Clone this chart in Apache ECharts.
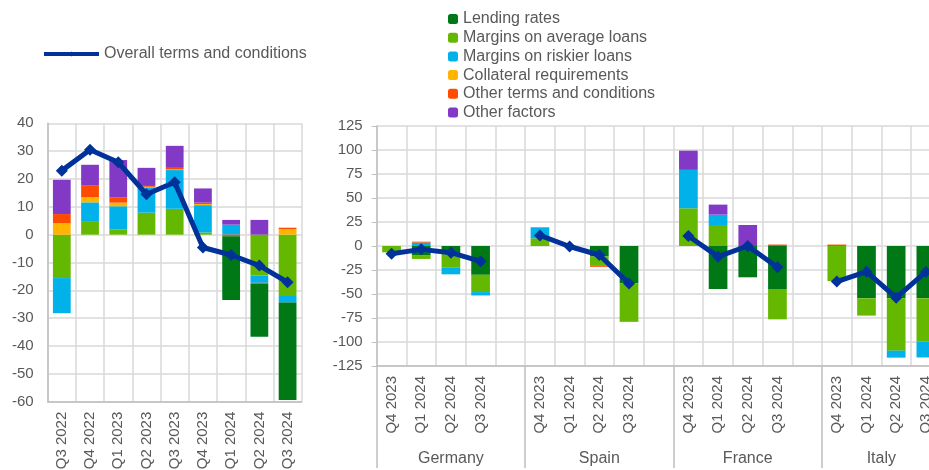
<!DOCTYPE html>
<html>
<head>
<meta charset="utf-8">
<title>Credit standards - terms and conditions</title>
<script src="https://cdn.jsdelivr.net/npm/echarts@6.0.0/dist/echarts.min.js"></script>
<style>
html,body{margin:0;padding:0;background:#fff;overflow:hidden;}
#chart{width:929px;height:470px;}
</style>
</head>
<body>
<div id="chart"></div>
<script>
// euro area quarters (left panel)
var euroQuarters = ['Q3 2022','Q4 2022','Q1 2023','Q2 2023','Q3 2023','Q4 2023','Q1 2024','Q2 2024','Q3 2024'];
var euroLending      = [0, 0, 0, 0, 0, 0, -22.9, -19, -35];
var euroAvgMargin    = [-15.6, 4.6, 1.8, 7.9, 9.3, 0.8, 0, -14.7, -22];
var euroRiskyMargin  = [-12.6, 7, 8.4, 9.1, 13.9, 9.8, 3.6, -2.6, -2.4];
var euroCollateral   = [4.1, 1.9, 1.3, 0.2, 0.2, 0.4, 0, 0, 2];
var euroOtherTerms   = [3.3, 4.1, 1.8, 0.3, 0.6, 0.5, -0.6, -0.4, 0.5];
var euroOtherFactors = [12.3, 7.5, 13.5, 6.5, 7.9, 5.1, 1.7, 5.3, 0];
var euroOverall      = [23, 30.5, 26, 14.5, 18.8, -4.6, -7.3, -11.1, -17.1];

// countries (right panel), 4 quarters each: Germany, Spain, France, Italy
var countries = ['Germany','Spain','France','Italy'];
var countryQuarters = ['Q4 2023','Q1 2024','Q2 2024','Q3 2024'];
var ctyLending      = [0, -10, -7.6, -30,   0, 0, -11, -39,      0, -44.8, -32.6, -44.8,   0, -54.5, -54.5, -54.5];
var ctyAvgMargin    = [-6.6, -3.5, -14.6, -18,   8, 0, -9.7, -40,   39.3, 21.9, 0, -31.6,   -36.5, -18, -54.5, -45];
var ctyRiskyMargin  = [0, 3.5, -7.3, -3.5,   11.5, 0, 0, 0,      40, 10.8, 0, 0,           0, 0, -7.3, -16.6];
var ctyCollateral   = [0, 0, 0, 0,   0, 0, 0, 0,   0, 0, 0, 0,   0, 0, 0, 0];
var ctyOtherTerms   = [0, 1, 0, 0,   0, 0, -1, 0,   0, 0, 0, 1.5,   1.5, 0, 0, 0];
var ctyOtherFactors = [0, 0, 0, 0,   0, 0, 0, 0,   20, 10.4, 21.9, 0,   0, 0, 0, 0];
var ctyOverall      = [-8, -3.5, -7, -16,   11, -0.5, -9.4, -39,   10.4, -11.1, 0, -22.2,   -37, -26.7, -53.8, -27];

var names = ['Lending rates','Margins on average loans','Margins on riskier loans','Collateral requirements','Other terms and conditions','Other factors'];
var lineName = 'Overall terms and conditions';
var colors = ['#007816','#65b800','#00b1ea','#ffb400','#ff4b00','#8139c6'];
var lineColor = '#003299';
var font = "'Liberation Sans', Arial, sans-serif";
var textColor = '#595959';

// build right categories with an empty slot between countries
var ctyCats = [];
var groupCenters = [];
for (var c = 0; c < countries.length; c++) {
	var start = ctyCats.length;
	for (var q = 0; q < countryQuarters.length; q++) {
		ctyCats.push(countryQuarters[q]);
	}
	if (c < countries.length - 1) ctyCats.push('');
	groupCenters.push((start + ctyCats.length) / 2);
}
function withGaps(arr) {
	var out = [];
	for (var i = 0; i < arr.length; i++) {
		out.push(arr[i]);
		if (i % 4 == 3 && i < arr.length - 1) out.push(null);
	}
	return out;
}

function barSeries(name, data, axis, stack) {
	return {
		name: name, type: 'bar', stack: stack,
		xAxisIndex: axis, yAxisIndex: axis,
		barWidth: '63%',
		itemStyle: {color: colors[names.indexOf(name)]},
		data: data
	};
}
function lineSeries(data, axis) {
	return {
		name: lineName, type: 'line',
		xAxisIndex: axis, yAxisIndex: axis,
		z: 5,
		symbol: 'diamond', symbolSize: 12, showSymbol: true,
		connectNulls: false,
		lineStyle: {color: lineColor, width: 5},
		itemStyle: {color: lineColor},
		data: data
	};
}

var series = [
	// left panel: lending rates stacked outermost
	barSeries(names[1], euroAvgMargin, 0, 'ea'),
	barSeries(names[2], euroRiskyMargin, 0, 'ea'),
	barSeries(names[3], euroCollateral, 0, 'ea'),
	barSeries(names[4], euroOtherTerms, 0, 'ea'),
	barSeries(names[5], euroOtherFactors, 0, 'ea'),
	barSeries(names[0], euroLending, 0, 'ea'),
	lineSeries(euroOverall, 0),
	// right panel
	barSeries(names[0], withGaps(ctyLending), 1, 'cty'),
	barSeries(names[1], withGaps(ctyAvgMargin), 1, 'cty'),
	barSeries(names[2], withGaps(ctyRiskyMargin), 1, 'cty'),
	barSeries(names[3], withGaps(ctyCollateral), 1, 'cty'),
	barSeries(names[4], withGaps(ctyOtherTerms), 1, 'cty'),
	barSeries(names[5], withGaps(ctyOtherFactors), 1, 'cty'),
	lineSeries(withGaps(ctyOverall), 1)
];

var gridLine = {show: true, lineStyle: {color: '#d9d9d9', width: 1.5}};
var axisLine = {show: true, onZero: false, lineStyle: {color: '#bfbfbf', width: 1.5}};

var myChart = echarts.init(document.getElementById('chart'));
var option = {
	animation: false,
	backgroundColor: '#fff',
	textStyle: {fontFamily: font},
	legend: [{
		data: [lineName],
		left: 37, top: 41,
		itemWidth: 55, itemHeight: 6,
		lineStyle: {width: 4},
		textStyle: {color: textColor, fontSize: 16, fontFamily: font}
	}, {
		data: names,
		orient: 'vertical',
		left: 443, top: 6,
		itemWidth: 10, itemHeight: 10, itemGap: 2.7,
		textStyle: {color: textColor, fontSize: 16, lineHeight: 16, fontFamily: font}
	}],
	grid: [
		{left: 47.7, top: 123.3, width: 254, bottom: 68.3, outerBoundsMode: 'none'},
		// last country runs past the right edge of the picture
		{left: 376.7, top: 126, width: 564, bottom: 104, outerBoundsMode: 'none'}
	],
	xAxis: [{
		type: 'category', gridIndex: 0, data: euroQuarters, position: 'bottom',
		axisLine: axisLine, axisTick: {show: false},
		splitLine: {show: true, interval: 0, lineStyle: gridLine.lineStyle},
		axisLabel: {rotate: 90, interval: 0, margin: 10, color: textColor, fontSize: 15, fontFamily: font}
	}, {
		type: 'category', gridIndex: 1, data: ctyCats, position: 'bottom',
		axisLine: axisLine,
		// separators between country groups
		axisTick: {show: true, length: 102, interval: function(index) { return index % 5 == 0; },
			lineStyle: {color: '#bfbfbf', width: 1.5}},
		splitLine: {show: true, interval: 0, lineStyle: gridLine.lineStyle},
		axisLabel: {rotate: 90, interval: 0, margin: 10, color: textColor, fontSize: 15, fontFamily: font}
	}, {
		// country names under the quarter labels
		type: 'value', gridIndex: 1, position: 'bottom', offset: 82,
		min: 0, max: ctyCats.length, interval: 0.5,
		axisLine: {show: false, onZero: false}, axisTick: {show: false}, splitLine: {show: false},
		axisLabel: {
			margin: 3, color: textColor, fontSize: 16, fontFamily: font,
			showMinLabel: true, showMaxLabel: true,
			formatter: function(v) {
				var i = groupCenters.indexOf(v);
				return i > -1 ? countries[i] : '';
			}
		}
	}],
	yAxis: [{
		type: 'value', gridIndex: 0, min: -60, max: 40, interval: 10,
		axisLine: axisLine, splitLine: gridLine,
		axisLabel: {margin: 14, color: textColor, fontSize: 15, fontFamily: font}
	}, {
		type: 'value', gridIndex: 1, min: -125, max: 125, interval: 25,
		axisLine: axisLine, splitLine: gridLine,
		axisLabel: {margin: 14, color: textColor, fontSize: 15, fontFamily: font}
	}],
	series: series
};
myChart.setOption(option);
</script>
</body>
</html>
